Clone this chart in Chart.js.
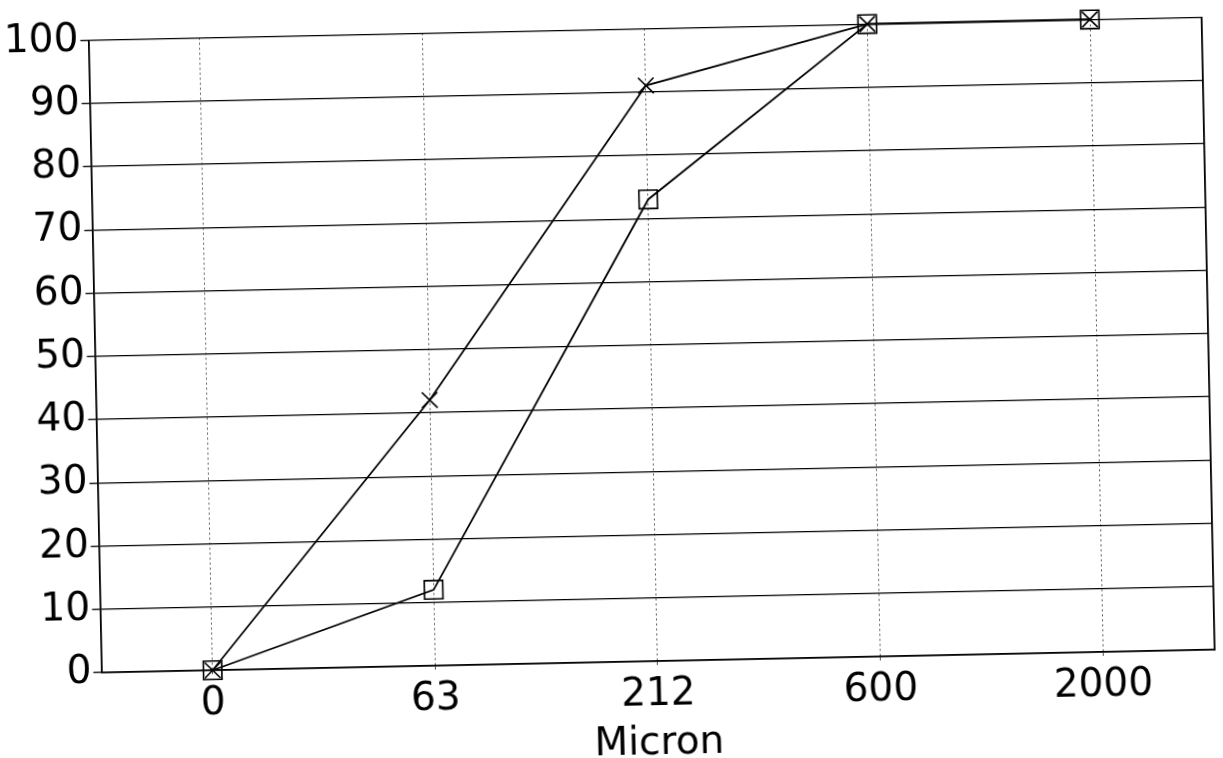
<!DOCTYPE html>
<html>
<head>
<meta charset="utf-8">
<script src="https://cdn.jsdelivr.net/npm/chart.js@4"></script>
<style>
  html, body { margin: 0; padding: 0; background: #fff; overflow: hidden; width: 1223px; height: 758px; }
  #wrap { position: absolute; left: 0; top: 4px; width: 1223px; height: 760px; transform: rotate(-1.18deg); transform-origin: 611px 375px; }
</style>
</head>
<body>
<div id="wrap"><canvas id="c" width="1223" height="760"></canvas></div>
<script>
const categories = ["0", "63", "212", "600", "2000"];
const seriesCross = [0, 42, 91, 100, 100];
const seriesSquare = [0, 12, 73, 100, 100];
const xTitle = "Micron";

const FONT = "'DejaVu Sans', sans-serif";

new Chart(document.getElementById('c'), {
  type: 'line',
  data: {
    labels: categories,
    datasets: [
      {
        label: 'A',
        data: seriesCross,
        borderColor: '#000',
        borderWidth: 1.8,
        pointStyle: 'crossRot',
        pointRadius: 11,
        pointBorderColor: '#000',
        pointBorderWidth: 1.6,
        backgroundColor: 'rgba(0,0,0,0)',
        fill: false,
        tension: 0,
        clip: false
      },
      {
        label: 'B',
        data: seriesSquare,
        borderColor: '#000',
        borderWidth: 1.8,
        pointStyle: 'rect',
        pointRadius: 13,
        pointBorderColor: '#000',
        pointBorderWidth: 1.6,
        pointBackgroundColor: 'rgba(0,0,0,0)',
        backgroundColor: 'rgba(0,0,0,0)',
        fill: false,
        tension: 0,
        clip: false
      }
    ]
  },
  options: {
    responsive: false,
    animation: false,
    layout: { padding: { left: 9, right: 2, top: 20, bottom: 0 } },
    plugins: { legend: { display: false }, tooltip: { enabled: false } },
    scales: {
      x: {
        type: 'category',
        offset: true,
        grid: {
          offset: false,
          color: '#555',
          lineWidth: 1,
          tickLength: 4
        },
        border: { display: true, color: '#000', width: 1.8, dash: [2, 3] },
        ticks: { color: '#000', font: { family: FONT, size: 39, lineHeight: 1.0 }, padding: 10, maxRotation: 0 },
        title: { display: true, text: xTitle, color: '#000', font: { family: FONT, size: 39, lineHeight: 1.0 }, padding: { top: 0, bottom: 0 } }
      },
      y: {
        min: 0,
        max: 100,
        grid: { color: '#000', lineWidth: 1.3, tickLength: 8 },
        border: { display: true, color: '#000', width: 1.8 },
        ticks: { stepSize: 10, color: '#000', font: { family: FONT, size: 39 }, padding: 2 }
      },
      y2: {
        position: 'right',
        min: 0,
        max: 100,
        grid: { drawOnChartArea: false, drawTicks: false, tickLength: 0 },
        border: { display: true, color: '#000', width: 1.8 },
        ticks: { display: false }
      }
    }
  }
});
</script>
</body>
</html>
